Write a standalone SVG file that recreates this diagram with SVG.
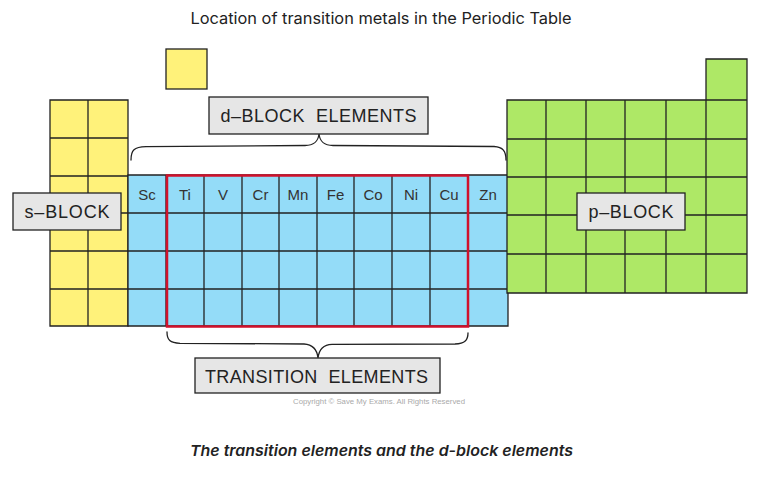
<svg xmlns="http://www.w3.org/2000/svg" width="774" height="479" viewBox="0 0 774 479">
<style>
.s{fill:#fff27a}
.d{fill:#94dcf8}
.p{fill:#aee866}
.ln{stroke:#222;stroke-width:1.3;fill:none;stroke-linecap:round}
.box{fill:#e6e6e6;stroke:#222;stroke-width:1.3}
.lbl{font-family:"Liberation Sans",Arial,sans-serif;font-size:18px;fill:#222;text-anchor:middle;white-space:pre}
.el{font-family:"Liberation Sans",Arial,sans-serif;font-size:15px;fill:#333;text-anchor:middle}
.title{font-family:Inter,"Open Sans",sans-serif;font-size:16px;fill:#222;text-anchor:middle}
</style>
<rect width="774" height="479" fill="#fff"/>
<text class="title" x="381" y="24" textLength="381" lengthAdjust="spacingAndGlyphs">Location of transition metals in the Periodic Table</text>

<g id="s-block">
<rect class="s" x="166" y="49" width="41" height="40"/>
<rect class="ln" x="166" y="49" width="41" height="40"/>
<rect class="s" x="50" y="100" width="78" height="226"/>
<path class="ln" d="M50,100H128V326H50Z M88,100V326 M50,138H128 M50,176H128 M50,213H128 M50,251H128 M50,289H128"/>
</g>

<g id="d-block">
<rect class="d" x="128" y="175" width="380" height="151"/>
<path class="ln" d="M128,175H508V326H128Z M166,175V326 M204,175V326 M242,175V326 M279,175V326 M317,175V326 M354,175V326 M392,175V326 M430,175V326 M468,175V326 M128,213H508 M128,251H508 M128,289H508"/>
<text class="el" x="147" y="200">Sc</text>
<text class="el" x="185" y="200">Ti</text>
<text class="el" x="223" y="200">V</text>
<text class="el" x="260.5" y="200">Cr</text>
<text class="el" x="298" y="200">Mn</text>
<text class="el" x="335.5" y="200">Fe</text>
<text class="el" x="373" y="200">Co</text>
<text class="el" x="411" y="200">Ni</text>
<text class="el" x="449" y="200">Cu</text>
<text class="el" x="488" y="200">Zn</text>
</g>

<g id="p-block">
<rect class="p" x="507" y="100" width="240" height="193"/>
<rect class="p" x="706" y="59" width="41" height="41"/>
<path class="ln" d="M507,100H747V293H507Z M706,100V59H747V100 M546,100V293 M586,100V293 M625,100V293 M666,100V293 M706,100V293 M507,139H747 M507,177H747 M507,215H747 M507,254H747"/>
</g>

<g id="transition-box">
<rect x="167" y="175.5" width="301" height="151" fill="none" stroke="#d0112b" stroke-width="2.5"/>
</g>

<g id="connectors">
<path class="ln" d="M131,160 C131,150 134,147 146,146.7 L305,145.5 C314,145.3 318,142 319,134 C320,142 324,145.3 333,145.5 L494,146.5 C503,147 506,151 506,160"/>
<path class="ln" d="M167,332 C167,340 170,343 180,343.3 L304,344 C313,344.5 317,349 318,358 C319,349 323,344.5 332,344.3 L455,344 C465,343.5 468,340 468,333"/>
</g>

<g id="s-label">
<rect class="box" x="13" y="193" width="108" height="37"/>
<text class="lbl" x="67" y="218" textLength="85" lengthAdjust="spacing">s–BLOCK</text>
</g>

<g id="d-label">
<rect class="box" x="209" y="97" width="219" height="37"/>
<text class="lbl" x="318.5" y="122" textLength="196" lengthAdjust="spacing" xml:space="preserve">d–BLOCK  ELEMENTS</text>
</g>

<g id="p-label">
<rect class="box" x="577" y="193" width="108" height="37"/>
<text class="lbl" x="631" y="218" textLength="85" lengthAdjust="spacing">p–BLOCK</text>
</g>

<g id="t-label">
<rect class="box" x="195" y="358" width="245" height="35"/>
<text class="lbl" x="316.5" y="383" textLength="223" lengthAdjust="spacing" xml:space="preserve">TRANSITION  ELEMENTS</text>
</g>

<text x="379" y="404" font-family="'Liberation Sans',Arial,sans-serif" font-size="7" fill="#aaa" text-anchor="middle" textLength="172" lengthAdjust="spacingAndGlyphs">Copyright © Save My Exams. All Rights Reserved</text>

<text x="381.5" y="456" font-family="Inter,'Open Sans',sans-serif" font-size="15" font-style="italic" font-weight="600" fill="#222" text-anchor="middle" textLength="383" lengthAdjust="spacingAndGlyphs">The transition elements and the d-block elements</text>
</svg>
